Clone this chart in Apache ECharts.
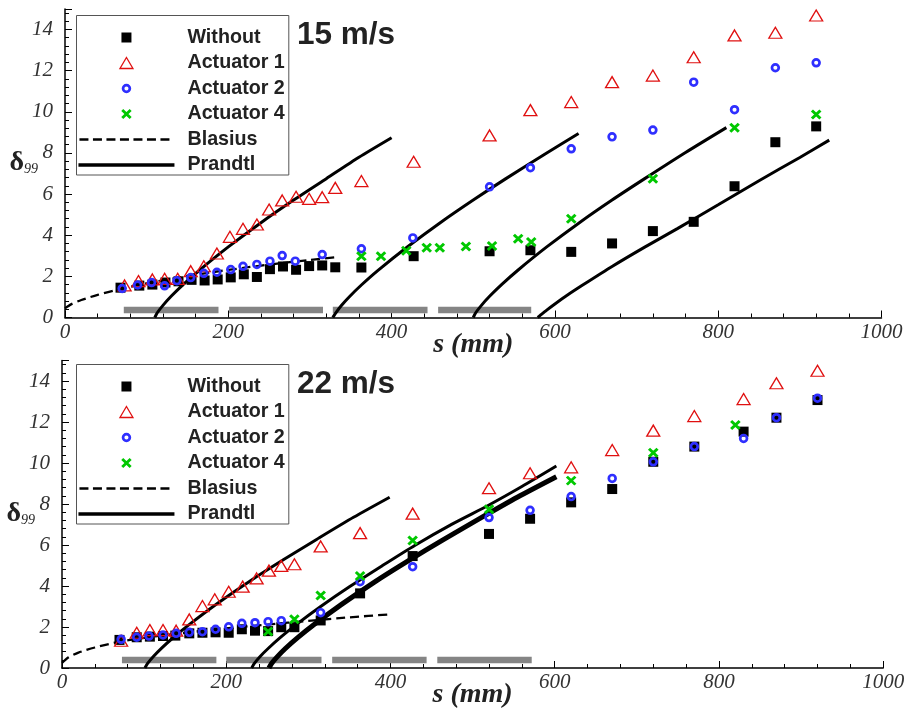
<!DOCTYPE html>
<html>
<head>
<meta charset="utf-8">
<script src="https://cdn.jsdelivr.net/npm/echarts/dist/echarts.min.js"></script>
<style>
html, body { margin: 0; padding: 0; background: #fff; }
#chart { width: 905px; height: 708px; }
</style>
</head>
<body>
<div id="chart"></div>
<script>
// ---------- 15 m/s ----------
const top_s_without = [68, 91, 107, 123, 139, 155, 171, 187, 203, 219, 235, 251, 267, 283, 299, 315, 331, 363, 427, 520, 570, 620, 670, 720, 770, 820, 870, 920];
const top_without   = [1.45, 1.55, 1.60, 1.70, 1.76, 1.83, 1.80, 1.85, 1.95, 2.10, 1.97, 2.35, 2.48, 2.32, 2.50, 2.53, 2.44, 2.43, 2.98, 3.22, 3.27, 3.19, 3.60, 4.20, 4.65, 6.38, 8.52, 9.29];

const top_s_act1 = [73, 90, 107, 122, 138, 154, 170, 186, 202, 218, 235, 250, 266, 283, 299, 315, 331, 363, 427, 520, 570, 620, 670, 720, 770, 820, 870, 920];
const top_act1   = [1.56, 1.77, 1.85, 1.88, 1.88, 2.25, 2.49, 3.11, 3.92, 4.31, 4.52, 5.25, 5.69, 5.87, 5.77, 5.85, 6.30, 6.63, 7.57, 8.85, 10.08, 10.47, 11.44, 11.76, 12.65, 13.71, 13.84, 14.68];

const top_s_act2 = [70, 89, 106, 122, 137, 154, 170, 186, 203, 218, 235, 251, 266, 282, 315, 363, 426, 520, 570, 620, 670, 720, 770, 820, 870, 920];
const top_act2   = [1.41, 1.58, 1.70, 1.54, 1.79, 1.94, 2.15, 2.20, 2.33, 2.49, 2.58, 2.74, 3.01, 2.74, 3.06, 3.34, 3.87, 6.35, 7.28, 8.20, 8.78, 9.11, 11.44, 10.10, 12.14, 12.38];

const top_s_act4 = [363, 387, 418, 443, 459, 491, 523, 555, 571, 620, 720, 820, 920];
const top_act4   = [2.98, 2.98, 3.24, 3.39, 3.39, 3.45, 3.48, 3.83, 3.67, 4.80, 6.74, 9.22, 9.87];

const top_s_blasius = [0, 8, 20, 40, 68, 100, 140, 180, 220, 260, 300, 330];
const top_blasius   = [0.45, 0.65, 0.85, 1.10, 1.38, 1.66, 1.95, 2.20, 2.42, 2.62, 2.80, 2.92];

const top_prandtl = [
  { s: [110, 113, 120, 130, 145, 165, 200, 240, 280, 320, 360, 400],
    d: [0, 0.23, 0.59, 1.03, 1.61, 2.31, 3.43, 4.61, 5.71, 6.75, 7.79, 8.74] },
  { s: [328, 331, 338, 348, 363, 383, 420, 460, 500, 540, 590, 629],
    d: [0, 0.19, 0.56, 1.00, 1.58, 2.28, 3.45, 4.62, 5.71, 6.75, 8.00, 8.94] },
  { s: [500, 503, 510, 520, 535, 555, 590, 630, 670, 710, 760, 810],
    d: [0, 0.23, 0.59, 1.03, 1.61, 2.31, 3.43, 4.61, 5.71, 6.75, 8.02, 9.23] },
  { s: [579, 582, 590, 600, 615, 635, 670, 710, 750, 800, 850, 900, 936],
    d: [0, 0.10, 0.36, 0.66, 1.08, 1.60, 2.48, 3.42, 4.32, 5.48, 6.65, 7.78, 8.62] }
];
const top_actuator_spans = [[72, 188], [201, 316], [328, 444], [457, 571]];

// ---------- 22 m/s ----------
const bot_s_without = [70, 91, 107, 123, 138, 155, 171, 187, 203, 219, 235, 251, 267, 283, 315, 363, 427, 520, 570, 620, 670, 720, 770, 830, 870, 920];
const bot_without   = [1.37, 1.50, 1.53, 1.56, 1.58, 1.69, 1.72, 1.74, 1.72, 1.89, 1.82, 1.80, 1.99, 1.99, 2.32, 3.64, 5.46, 6.54, 7.28, 8.08, 8.73, 10.06, 10.80, 11.53, 12.21, 13.07];

const bot_s_act1 = [72, 91, 107, 123, 139, 155, 171, 186, 203, 220, 237, 252, 267, 283, 315, 363, 427, 520, 570, 620, 670, 720, 770, 830, 870, 920];
const bot_act1   = [1.33, 1.72, 1.85, 1.85, 1.82, 2.37, 3.02, 3.35, 3.72, 3.97, 4.37, 4.75, 4.98, 5.06, 5.93, 6.58, 7.53, 8.77, 9.50, 9.79, 10.63, 11.58, 12.29, 13.12, 13.89, 14.50];

const bot_s_act2 = [72, 91, 106, 123, 139, 155, 171, 187, 203, 219, 235, 251, 267, 315, 363, 427, 520, 570, 620, 670, 720, 770, 830, 870, 920];
const bot_act2   = [1.40, 1.50, 1.56, 1.61, 1.69, 1.74, 1.77, 1.89, 2.01, 2.18, 2.21, 2.26, 2.31, 2.70, 4.21, 4.94, 7.34, 7.69, 8.36, 9.25, 10.06, 10.80, 11.20, 12.21, 13.16];

const bot_s_act4 = [251, 283, 315, 363, 427, 520, 620, 720, 820];
const bot_act4   = [1.78, 2.38, 3.54, 4.49, 6.22, 7.74, 9.14, 10.50, 11.85];

const bot_s_blasius = [0, 8, 20, 40, 66, 100, 150, 200, 250, 300, 350, 400];
const bot_blasius   = [0.25, 0.52, 0.75, 1.00, 1.25, 1.47, 1.72, 1.93, 2.12, 2.30, 2.47, 2.62];

const bot_prandtl = [
  { s: [101, 104, 111, 121, 136, 156, 190, 230, 270, 310, 355, 399],
    d: [0, 0.21, 0.55, 0.96, 1.50, 2.15, 3.17, 4.27, 5.29, 6.27, 7.35, 8.33], heavy: false },
  { s: [231, 234, 241, 251, 266, 286, 315, 350, 390, 430, 475, 520, 560, 602],
    d: [0, 0.21, 0.55, 0.95, 1.49, 2.14, 3.00, 3.96, 4.99, 5.99, 7.02, 7.95, 8.85, 9.85], heavy: false },
  { s: [252, 255, 262, 272, 287, 307, 340, 380, 420, 465, 510, 555, 602],
    d: [0, 0.21, 0.54, 0.95, 1.48, 2.12, 3.09, 4.18, 5.19, 6.27, 7.32, 8.34, 9.33], heavy: true }
];
const bot_actuator_spans = [[73, 188], [200, 316], [329, 444], [457, 572]];

// axis ticks
const x_ticks = [0, 200, 400, 600, 800, 1000];
const y_ticks = [0, 2, 4, 6, 8, 10, 12, 14];
const panel_titles = ['15 m/s', '22 m/s'];
const legend_names = ['Without', 'Actuator 1', 'Actuator 2', 'Actuator 4', 'Blasius', 'Prandtl'];

// ---------- helpers ----------
const zip = (xs, ys) => xs.map((x, i) => [x, ys[i]]);
const spanLine = (spans, level) => {
  const out = [];
  spans.forEach(([a, b]) => { out.push([a, level], [b, level], [b, '-']); });
  return out;
};

const RED = '#e01010', BLUE = '#2f2fff', GREEN = '#00c800';
const X_PATH = 'path://M0,0L10,10M10,0L0,10';
const serif = '"Liberation Serif", "Times New Roman", serif';
const sans = '"Liberation Sans", Arial, Helvetica, sans-serif';

const grids = [
  { left: 65, top: 8.9, width: 816.5, height: 308.6 },
  { left: 62, top: 360.5, width: 821.2, height: 307.5 }
];

function xAxisFor(i) {
  return {
    type: 'value', gridIndex: i, min: x_ticks[0], max: x_ticks[x_ticks.length - 1],
    interval: x_ticks[1] - x_ticks[0],
    name: 's (mm)', nameLocation: 'middle', nameGap: 13, nameMoveOverlap: false,
    nameTextStyle: { fontFamily: serif, fontStyle: 'italic', fontWeight: 'bold', fontSize: 28, color: '#222' },
    axisLine: { show: true, lineStyle: { color: '#000', width: 1.5 } },
    axisTick: { show: true, inside: true, length: 7, lineStyle: { color: '#000', width: 1 } },
    minorTick: { show: true, splitNumber: 5, length: 4, lineStyle: { color: '#000', width: 1 } },
    axisLabel: { fontFamily: serif, fontStyle: 'italic', fontSize: 21, color: '#333', margin: 4,
      formatter: v => String(v) },
    splitLine: { show: false }, minorSplitLine: { show: false }
  };
}
function yAxisFor(i) {
  return {
    type: 'value', gridIndex: i, min: y_ticks[0], max: 15,
    interval: y_ticks[1] - y_ticks[0],
    name: '{d|δ}{s|99}', nameLocation: 'middle', nameRotate: 0, nameGap: 27, nameMoveOverlap: false,
    nameTextStyle: {
      rich: {
        d: { fontFamily: serif, fontWeight: 'bold', fontSize: 28, color: '#222' },
        s: { fontFamily: serif, fontStyle: 'italic', fontSize: 14, color: '#222', padding: [12, 0, 0, 0] }
      }
    },
    axisLine: { show: true, lineStyle: { color: '#000', width: 1.5 } },
    axisTick: { show: true, inside: true, length: 7, lineStyle: { color: '#000', width: 1 } },
    minorTick: { show: true, splitNumber: 5, length: 4, lineStyle: { color: '#000', width: 1 } },
    axisLabel: {
      fontFamily: serif, fontStyle: 'italic', fontSize: 21, color: '#333', margin: 12,
      formatter: v => (y_ticks.indexOf(v) >= 0 ? String(v) : '')
    },
    splitLine: { show: false }, minorSplitLine: { show: false }
  };
}

function panelSeries(i, p) {
  const ax = { xAxisIndex: i, yAxisIndex: i };
  const list = [];
  list.push(Object.assign({
    name: 'actuator strips', type: 'line', data: spanLine(p.spans, p.level),
    symbol: 'none', silent: true, connectNulls: false, z: 1,
    lineStyle: { color: '#858585', width: 6.5, cap: 'butt' }
  }, ax));
  list.push(Object.assign({
    name: 'Blasius', type: 'line', data: zip(p.sBl, p.bl), symbol: 'none', smooth: 0.25,
    z: 2, lineStyle: { color: '#000', width: 2.3, type: [9, 5] }
  }, ax));
  p.prandtl.forEach(c => {
    list.push(Object.assign({
      name: 'Prandtl', type: 'line', data: zip(c.s, c.d), symbol: 'none', smooth: 0.25,
      z: 3, lineStyle: { color: '#000', width: c.heavy ? 5 : 3 }
    }, ax));
  });
  list.push(Object.assign({
    name: 'Without', type: 'scatter', data: zip(p.sW, p.w), symbol: 'rect', symbolSize: 10, z: 4,
    itemStyle: { color: '#000', opacity: 1 }
  }, ax));
  list.push(Object.assign({
    name: 'Actuator 1', type: 'scatter', data: zip(p.sA1, p.a1), symbol: 'triangle', symbolSize: [13, 11], z: 5,
    itemStyle: { color: 'rgba(0,0,0,0)', borderColor: RED, borderWidth: 1.3, opacity: 1 }
  }, ax));
  list.push(Object.assign({
    name: 'Actuator 2', type: 'scatter', data: zip(p.sA2, p.a2), symbol: 'circle', symbolSize: 6.8, z: 6,
    itemStyle: { color: 'rgba(0,0,0,0)', borderColor: BLUE, borderWidth: 2.7, opacity: 1 }
  }, ax));
  list.push(Object.assign({
    name: 'Actuator 4', type: 'scatter', data: zip(p.sA4, p.a4), symbol: X_PATH, symbolSize: [8.5, 8], z: 7,
    itemStyle: { color: 'rgba(0,0,0,0)', borderColor: GREEN, borderWidth: 2.9, opacity: 1 }
  }, ax));
  return list;
}

// legend icons in a 104 x 14 frame (the two leading moves fix the frame)
const F = 'path://M0,0M104,14';
const legendIcons = {
  'Without':    F + 'M43,2H53V12H43Z',
  'Actuator 1': F + 'M48,1.5L54.5,12.5L41.5,12.5Z',
  'Actuator 2': F + 'M44.6,7A3.4,3.4,0,1,0,51.4,7A3.4,3.4,0,1,0,44.6,7Z',
  'Actuator 4': F + 'M43.8,3L52.2,11M52.2,3L43.8,11',
  'Blasius':    F + 'M1,5.8H10V8.2H1ZM14.5,5.8H23.5V8.2H14.5ZM28,5.8H37V8.2H28ZM41.5,5.8H50.5V8.2H41.5ZM55,5.8H64V8.2H55ZM68.5,5.8H77.5V8.2H68.5ZM82,5.8H91V8.2H82Z',
  'Prandtl':    F + 'M0,5.3H96V8.7H0Z'
};
const legendStyles = {
  'Without':    { color: '#000', borderWidth: 0, opacity: 1 },
  'Actuator 1': { color: 'rgba(0,0,0,0)', borderColor: RED, borderWidth: 1.3, opacity: 1 },
  'Actuator 2': { color: 'rgba(0,0,0,0)', borderColor: BLUE, borderWidth: 2.7, opacity: 1 },
  'Actuator 4': { color: 'rgba(0,0,0,0)', borderColor: GREEN, borderWidth: 2.9, opacity: 1 },
  'Blasius':    { color: '#000', borderWidth: 0, opacity: 1 },
  'Prandtl':    { color: '#000', borderWidth: 0, opacity: 1 }
};
function legendFor(top) {
  return {
    orient: 'vertical', left: 76.5, top: top,
    padding: [12, 4, 0, 0.5], itemGap: 5.5, itemWidth: 104, itemHeight: 14,
    borderColor: '#555', borderWidth: 1, backgroundColor: '#fff',
    selectedMode: false,
    textStyle: { fontFamily: sans, fontWeight: 'bold', fontSize: 19.7, color: '#222' },
    data: legend_names.map(n => ({ name: n, icon: legendIcons[n], itemStyle: legendStyles[n] }))
  };
}

const panels = [
  { spans: top_actuator_spans, level: 0.36, sBl: top_s_blasius, bl: top_blasius, prandtl: top_prandtl,
    sW: top_s_without, w: top_without, sA1: top_s_act1, a1: top_act1, sA2: top_s_act2, a2: top_act2,
    sA4: top_s_act4, a4: top_act4 },
  { spans: bot_actuator_spans, level: 0.39, sBl: bot_s_blasius, bl: bot_blasius, prandtl: bot_prandtl,
    sW: bot_s_without, w: bot_without, sA1: bot_s_act1, a1: bot_act1, sA2: bot_s_act2, a2: bot_act2,
    sA4: bot_s_act4, a4: bot_act4 }
];

const titleStyle = { fontFamily: sans, fontWeight: 'bold', fontSize: 31.5, lineHeight: 32, color: '#222' };
const chart = echarts.init(document.getElementById('chart'), null, { renderer: 'canvas' });
chart.setOption({
  animation: false,
  backgroundColor: '#fff',
  title: [
    { text: panel_titles[0], left: 297, top: 19.5, padding: 0, textStyle: titleStyle },
    { text: panel_titles[1], left: 297, top: 368.5, padding: 0, textStyle: titleStyle }
  ],
  grid: grids.map(g => Object.assign({ containLabel: false, outerBoundsMode: 'none' }, g)),
  xAxis: [xAxisFor(0), xAxisFor(1)],
  yAxis: [yAxisFor(0), yAxisFor(1)],
  legend: [legendFor(15.5), legendFor(364.5)],
  series: panelSeries(0, panels[0]).concat(panelSeries(1, panels[1]))
});
</script>
</body>
</html>
